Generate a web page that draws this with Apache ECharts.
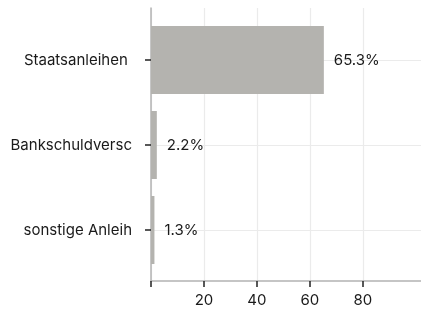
<!DOCTYPE html>
<html>
<head>
<meta charset="utf-8">
<script src="https://cdn.jsdelivr.net/npm/echarts@6/dist/echarts.min.js"></script>
<style>
  html, body { margin: 0; padding: 0; background: #fff; }
  #chart { width: 421px; height: 311px; }
</style>
</head>
<body>
<div id="chart"></div>
<script>
// Daten
var categories = ['Staatsanleihen ', 'Bankschuldversc', 'sonstige Anleih'];
var values = [65.3, 2.2, 1.3];
var tickValues = [0, 20, 40, 60, 80];
var labelValues = [20, 40, 60, 80];

var FONT = 'Inter';
var FS = 15;
var xMax = 102;

var myChart = echarts.init(document.getElementById('chart'));

var option = {
    animation: false,
    grid: [
        // bars
        { left: 151, right: 0, top: 17.5, bottom: 38.5 },
        // axis frame (slightly taller than the bands)
        { left: 151, right: 0, top: 8, bottom: 30 }
    ],
    xAxis: [
        {
            gridIndex: 0, type: 'value', min: 0, max: xMax,
            show: false
        },
        {
            gridIndex: 1, type: 'value', min: 0, max: xMax, interval: 20,
            axisLine: { show: true, lineStyle: { color: '#b3b3b3', width: 1.5 } },
            axisTick: { show: true, length: 6, customValues: tickValues,
                lineStyle: { color: '#222', width: 1.5 } },
            axisLabel: {
                customValues: labelValues,
                color: '#1a1a1a', fontFamily: FONT, fontSize: FS, margin: 12
            },
            splitLine: { show: true, lineStyle: { color: '#ebebeb', width: 1.2 } }
        }
    ],
    yAxis: [
        {
            gridIndex: 0, type: 'category', data: categories, inverse: true,
            axisLine: { show: false },
            axisTick: { show: true, alignWithLabel: true, length: 6,
                lineStyle: { color: '#222', width: 1.5 } },
            axisLabel: { color: '#1a1a1a', fontFamily: FONT, fontSize: FS, margin: 19 },
            splitLine: { show: true, alignWithLabel: true,
                lineStyle: { color: '#ebebeb', width: 1.2 } }
        },
        {
            gridIndex: 1, type: 'value', min: 0, max: 1,
            axisLine: { show: true, lineStyle: { color: '#b3b3b3', width: 1.5 } },
            axisTick: { show: false },
            axisLabel: { show: false },
            splitLine: { show: false }
        }
    ],
    series: [{
        type: 'bar',
        xAxisIndex: 0,
        yAxisIndex: 0,
        data: values,
        barWidth: '80%',
        itemStyle: { color: '#b4b3af' },
        label: {
            show: true,
            position: 'right',
            distance: 10,
            color: '#1a1a1a',
            fontFamily: FONT,
            fontSize: FS,
            formatter: function (p) { return p.value.toFixed(1) + '%'; }
        }
    }]
};

myChart.setOption(option);
</script>
</body>
</html>
